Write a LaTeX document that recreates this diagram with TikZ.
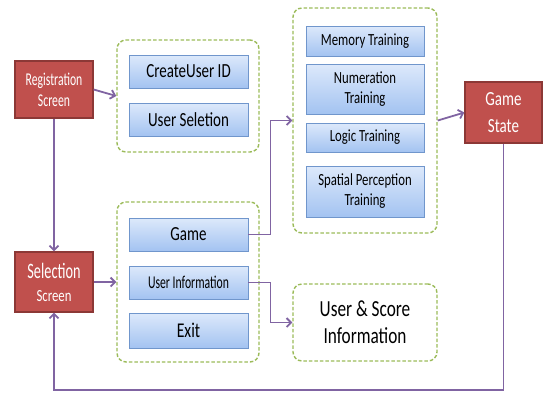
\documentclass[tikz,border=0pt]{standalone}
\usepackage{fontspec}
\setmainfont{Carlito}
\newfontfamily\fa[FakeStretch=0.75]{Carlito}
\newfontfamily\fb[FakeStretch=0.65]{Carlito}
\usetikzlibrary{arrows.meta,shadows,shadings}
\definecolor{redF}{HTML}{C0504D}
\definecolor{redD}{HTML}{8C3836}
\definecolor{blueT}{HTML}{DDE9FB}
\definecolor{blueB}{HTML}{A3C3F1}
\definecolor{blueD}{HTML}{7096CC}
\definecolor{grn}{HTML}{9BBB59}
\definecolor{purp}{HTML}{8064A2}
\tikzset{
  redbox/.style={draw=redD, line width=1.3pt, fill=redF, text=white, inner sep=0pt, align=center},
  bluebox/.style={draw=blueD, line width=0.8pt, top color=blueT, bottom color=blueB, inner sep=0pt, align=center,
    drop shadow={shadow xshift=0.8pt, shadow yshift=-1.2pt, opacity=0.3}},
  grpbox/.style={draw=grn, line width=1.4pt, dash pattern=on 3.5pt off 2pt, rounded corners=9pt, inner sep=0pt, align=center},
  flow/.style={draw=purp, line width=1.8pt, -{Straight Barb[length=4.5pt,width=9pt]}},
  fA/.style={font=\fa\fontsize{#1}{#1}\selectfont},
  fB/.style={font=\fb\fontsize{#1}{#1}\selectfont}
}
\begin{document}
\begin{tikzpicture}[x=1pt,y=-1pt]
\useasboundingbox (0,0) rectangle (543,392);
% groups
\node[grpbox, minimum width=142pt, minimum height=112pt] (g1) at (188,96) {};
\node[grpbox, minimum width=142pt, minimum height=160pt] (g2) at (188,282) {};
\node[grpbox, minimum width=144pt, minimum height=225pt] (g3) at (365,120.5) {};
\node[grpbox, minimum width=144pt, minimum height=77pt, fA=23] (usi) at (365,322.5)
  {User \& Score\\[4pt]Information};
% red boxes
\node[redbox, minimum width=78pt, minimum height=57pt, fB=18] (reg) at (54,89.5)
  {Registration\\[3pt]Screen};
\node[redbox, minimum width=78pt, minimum height=60pt, fB=22] (sel) at (54,282)
  {Selection\\[1pt]\fa\fontsize{17}{17}\selectfont Screen};
\node[redbox, minimum width=77pt, minimum height=61pt, fA=20] (gs) at (503.5,112.5)
  {Game\\[7pt]State};
% blue boxes group 1
\node[bluebox, minimum width=119pt, minimum height=33pt, fA=20] (cuid) at (188.5,71.5) {CreateUser ID};
\node[bluebox, minimum width=119pt, minimum height=33pt, fA=20] (usel) at (188.5,119.5) {User Seletion};
% group 2
\node[bluebox, minimum width=119pt, minimum height=33pt, fA=20] (game) at (188.5,234.5) {Game};
\node[bluebox, minimum width=119pt, minimum height=33pt, fB=18] (uinf) at (188.5,282.5) {User Information};
\node[bluebox, minimum width=119pt, minimum height=35pt, fA=21] (exit) at (188.5,330.5) {Exit};
% group 3
\node[bluebox, minimum width=118pt, minimum height=30pt, fA=17] (mem) at (365,41) {Memory Training};
\node[bluebox, minimum width=118pt, minimum height=50pt, fA=17] (num) at (365,89) {Numeration\\[3pt]Training};
\node[bluebox, minimum width=118pt, minimum height=29pt, fA=17] (logi) at (365,137.5) {Logic Training};
\node[bluebox, minimum width=118pt, minimum height=51pt, fA=17] (spa) at (365,191.5) {Spatial Perception\\[3pt]Training};
% connectors
\draw[flow] (reg.east) -- (g1.west);
\draw[flow] (reg.south) -- (sel.north);
\draw[flow] (sel.east) -- (g2.west);
\draw[flow] (game.east) -- ++(22,0) |- (g3.west);
\draw[flow] (uinf.east) -- ++(22,0) |- (usi.west);
\draw[flow] (g3.east) -- (gs.west);
\coordinate (bot) at (0,390);
\draw[flow] (gs.south) -- (gs.south |- bot) -| (sel.south);
\end{tikzpicture}
\end{document}
